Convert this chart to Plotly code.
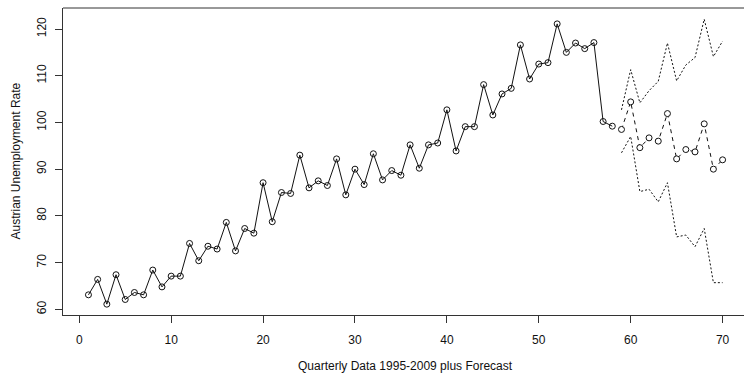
import plotly.graph_objects as go

# Observed quarterly values (index 1..58)
obs_x = list(range(1, 59))
obs_y = [63.1, 66.4, 61.1, 67.4, 62.1, 63.6, 63.1, 68.4, 64.8, 67.1,
         67.1, 74.1, 70.4, 73.5, 72.9, 78.6, 72.5, 77.3, 76.3, 87.1,
         78.75, 85.0, 84.8, 93.0, 86.0, 87.5, 86.5, 92.2, 84.5, 90.0,
         86.7, 93.3, 87.7, 89.7, 88.7, 95.2, 90.2, 95.2, 95.6, 102.7,
         93.9, 99.1, 99.1, 108.1, 101.6, 106.1, 107.3, 116.6, 109.3, 112.5,
         112.8, 121.1, 115.0, 117.0, 115.8, 117.1, 100.2, 99.2]

# Forecast (index 59..70)
fc_x = list(range(59, 71))
fc_mean = [98.5, 104.4, 94.6, 96.7, 96.0, 101.9, 92.2, 94.2, 93.7, 99.7, 90.0, 92.0]
fc_upper = [102.7, 111.3, 104.2, 106.8, 108.8, 117.0, 108.9, 112.3, 113.9, 122.1, 114.1, 117.4]
fc_lower = [93.5, 97.0, 85.2, 85.7, 83.0, 87.1, 75.5, 75.9, 73.4, 77.3, 65.7, 65.7]

x_ticks = [0, 10, 20, 30, 40, 50, 60, 70]
y_ticks = [60, 70, 80, 90, 100, 110, 120]

FONT = "Liberation Sans, Arial, sans-serif"
INK = "#111111"

fig = go.Figure()

fig.add_trace(go.Scatter(
    x=fc_x, y=fc_upper, mode="lines",
    line=dict(color=INK, width=1, dash="2px,2px"), showlegend=False))
fig.add_trace(go.Scatter(
    x=fc_x, y=fc_lower, mode="lines",
    line=dict(color=INK, width=1, dash="2px,2px"), showlegend=False))
fig.add_trace(go.Scatter(
    x=fc_x, y=fc_mean, mode="lines+markers",
    line=dict(color=INK, width=1, dash="4px,4px"),
    marker=dict(symbol="circle", size=6, color="white",
                line=dict(color=INK, width=1)),
    showlegend=False))
fig.add_trace(go.Scatter(
    x=obs_x, y=obs_y, mode="lines+markers",
    line=dict(color=INK, width=1),
    marker=dict(symbol="circle-open", size=6, color=INK,
                line=dict(color=INK, width=1)),
    showlegend=False))

axis_common = dict(
    showgrid=False, zeroline=False, showline=True, linecolor="#333333",
    linewidth=1, ticks="outside", ticklen=7, tickcolor="#333333",
    tickfont=dict(family=FONT, size=12, color=INK),
)

fig.update_layout(
    width=744, height=375,
    margin=dict(l=63, r=0, t=8, b=60),
    paper_bgcolor="white", plot_bgcolor="white",
    font=dict(family=FONT, size=12, color=INK),
    xaxis=dict(range=[-1.77, 72.33], tickvals=x_ticks,
               ticklabelstandoff=7, **axis_common),
    yaxis=dict(range=[58.78, 124.5], tickvals=y_ticks, tickangle=-90,
               ticklabelstandoff=4, **axis_common),
    shapes=[dict(type="line", xref="paper", yref="paper", x0=0, x1=1, y0=1, y1=1,
                 line=dict(color="#333333", width=1))],
    annotations=[
        dict(text="Quarterly Data 1995-2009 plus Forecast", xref="x", yref="paper",
             x=35.5, y=0, yanchor="middle", xanchor="center", yshift=-51,
             showarrow=False, font=dict(family=FONT, size=12, color=INK)),
        dict(text="Austrian Unemployment Rate", xref="paper", yref="paper",
             x=0, y=0.5, xanchor="center", yanchor="middle", xshift=-48,
             textangle=-90, showarrow=False,
             font=dict(family=FONT, size=12, color=INK)),
    ],
)

fig.write_html("out.html")
